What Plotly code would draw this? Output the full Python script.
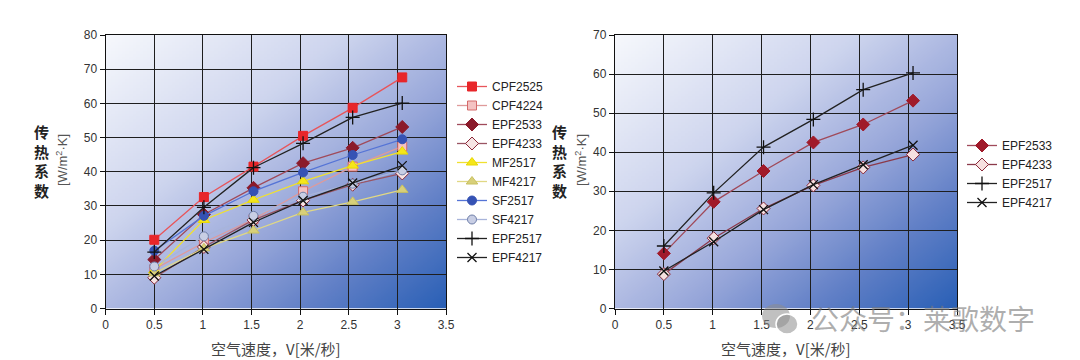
import base64, struct, zlib
import plotly.graph_objects as go

# ---------------- data ----------------
speed = [0.5, 1.01, 1.52, 2.03, 2.54, 3.05]
x_ticks = [0, 0.5, 1, 1.5, 2, 2.5, 3, 3.5]

# left chart
CPF2525 = [20.1, 32.6, 41.5, 50.5, 58.7, 67.6]
CPF4224 = [11.5, 19.3, 26.1, 34.3, 41.5, 47.4]
EPF2533 = [14.3, 27.5, 35.3, 42.5, 47.0, 53.1]
EPF4233 = [9.0, 18.0, 25.9, 31.6, 36.2, 39.5]
MF2517 = [11.1, 25.9, 31.8, 37.2, 41.8, 45.9]
MF4217 = [10.3, 17.6, 22.8, 28.1, 31.2, 34.7]
SF2517 = [16.9, 27.1, 34.3, 39.8, 44.9, 49.5]
SF4217 = [12.3, 21.1, 27.1, 32.7, 36.5, 40.4]
EPF2517 = [16.5, 29.6, 41.2, 48.3, 55.9, 60.1]
EPF4217 = [9.5, 17.3, 25.2, 31.6, 36.7, 41.8]

# right chart
R_EPF2533 = [14.1, 27.3, 35.2, 42.5, 47.1, 53.2]
R_EPF4233 = [8.8, 18.0, 25.6, 31.5, 36.1, 39.4]
R_EPF2517 = [16.0, 29.6, 41.3, 48.4, 56.0, 60.3]
R_EPF4217 = [9.6, 17.1, 25.3, 31.7, 36.8, 41.8]

x_title = "空气速度，V[米/秒]"
y_title_cn = "传<br>热<br>系<br>数"
y_title_unit = "[W/m<sup>2</sup>·K]"
watermark = "公众号：莱歌数字"

W, H, OFF = 1080, 360, 8  # page body margin offset compensation

def px(x):
    return (x - OFF) / W

def py(y):
    return 1 - (y - OFF) / H

# ---------------- gradient background image ----------------
def grad_color(t):
    stops = [(0.0, (246, 248, 252)), (0.35, (206, 213, 238)), (0.6, (152, 167, 218)),
             (0.8, (96, 127, 198)), (1.0, (42, 96, 182))]
    for (t0, c0), (t1, c1) in zip(stops[:-1], stops[1:]):
        if t <= t1:
            f = (t - t0) / (t1 - t0)
            return tuple(int(round(a + (b - a) * f)) for a, b in zip(c0, c1))
    return stops[-1][1]

def make_png(w, h):
    rows = []
    for j in range(h):
        row = bytearray(b"\x00")
        for i in range(w):
            t = 0.5 * (i / (w - 1) + j / (h - 1))
            row.extend(grad_color(t))
        rows.append(bytes(row))
    raw = b"".join(rows)

    def chunk(tag, data):
        return (struct.pack(">I", len(data)) + tag + data +
                struct.pack(">I", zlib.crc32(tag + data) & 0xFFFFFFFF))

    png = (b"\x89PNG\r\n\x1a\n" +
           chunk(b"IHDR", struct.pack(">IIBBBBB", w, h, 8, 2, 0, 0, 0)) +
           chunk(b"IDAT", zlib.compress(raw, 9)) + chunk(b"IEND", b""))
    return "data:image/png;base64," + base64.b64encode(png).decode()

bg = make_png(96, 96)

# ---------------- figure ----------------
fig = go.Figure()

def add(xa, ya, legend, name, y, line_color, symbol, mcolor, mline, size=9, mlw=1, lw=1.3):
    fig.add_trace(go.Scatter(
        x=speed, y=y, name=name, mode="lines+markers",
        xaxis=xa, yaxis=ya, legend=legend,
        line=dict(color=line_color, width=lw),
        marker=dict(symbol=symbol, size=size, color=mcolor,
                    line=dict(color=mline, width=mlw)),
    ))

L = ("x", "y", "legend")
add(*L, "CPF2525", CPF2525, "#e8555a", "square", "#e8262a", "#e8262a", 9)
add(*L, "CPF4224", CPF4224, "#df9a9a", "square", "#f4c2c2", "#d46a6a", 9)
add(*L, "EPF2533", EPF2533, "#a04a5a", "diamond", "#8b1a2a", "#8b1a2a", 10)
add(*L, "EPF4233", EPF4233, "#9a5563", "diamond", "#f6e4e4", "#8b2a3a", 10)
add(*L, "MF2517", MF2517, "#f0e030", "triangle-up", "#f5e61a", "#e8d800", 10)
add(*L, "MF4217", MF4217, "#e0d884", "triangle-up", "#d8d07a", "#c8c060", 10)
add(*L, "SF2517", SF2517, "#5574d6", "circle", "#3552b4", "#3552b4", 9)
add(*L, "SF4217", SF4217, "#a8b4da", "circle", "#c8cee4", "#6e7ea8", 9)
add(*L, "EPF2517", EPF2517, "#222222", "cross-thin", "#111111", "#111111", 10, 1.3)
add(*L, "EPF4217", EPF4217, "#222222", "x-thin", "#111111", "#111111", 9, 1.3)

R = ("x2", "y2", "legend2")
add(*R, "EPF2533", R_EPF2533, "#a04a5a", "diamond", "#a01a2a", "#a01a2a", 10)
add(*R, "EPF4233", R_EPF4233, "#8b3a4a", "diamond", "#f6e0e0", "#8b2a3a", 10)
add(*R, "EPF2517", R_EPF2517, "#222222", "cross-thin", "#111111", "#111111", 10, 1.3)
add(*R, "EPF4217", R_EPF4217, "#222222", "x-thin", "#111111", "#111111", 9, 1.3)

tickfont = dict(family="Liberation Sans, Arial, sans-serif", size=12, color="#333333")
common = dict(showgrid=True, gridcolor="#1e1e1e", gridwidth=1.3, zeroline=False,
              showline=True, linecolor="#111111", linewidth=1.3, mirror=True,
              ticks="outside", ticklen=5, tickcolor="#111111", tickfont=tickfont,
              fixedrange=True, automargin=False)

ydom = [py(308.5), py(35)]
legfont = dict(family="Liberation Sans, Arial, sans-serif", size=12, color="#222222")
fig.update_layout(
    width=W, height=H,
    margin=dict(l=0, r=0, t=0, b=0, autoexpand=False),
    paper_bgcolor="white", plot_bgcolor="white",
    showlegend=True,
    xaxis=dict(domain=[px(105.7), px(446)], range=[0, 3.5], tickvals=x_ticks, **common),
    yaxis=dict(domain=ydom, range=[0, 80], dtick=10, anchor="x", **common),
    xaxis2=dict(domain=[px(615), px(957)], range=[0, 3.5], tickvals=x_ticks, anchor="y2", **common),
    yaxis2=dict(domain=ydom, range=[0, 70], dtick=10, anchor="x2", **common),
    legend=dict(x=px(452), y=py(172), xanchor="left", yanchor="middle",
                bgcolor="rgba(255,255,255,0)", itemwidth=30, tracegroupgap=0, font=legfont),
    legend2=dict(x=px(962), y=py(174), xanchor="left", yanchor="middle",
                 bgcolor="rgba(255,255,255,0)", itemwidth=30, tracegroupgap=0, font=legfont),
    images=[
        dict(source=bg, xref="x", yref="y", x=0, y=80, sizex=3.5, sizey=80,
             sizing="stretch", layer="below", xanchor="left", yanchor="top"),
        dict(source=bg, xref="x2", yref="y2", x=0, y=70, sizex=3.5, sizey=70,
             sizing="stretch", layer="below", xanchor="left", yanchor="top"),
    ],
)

cjk = "Noto Sans CJK SC, sans-serif"
ann = []
for cx, ux in ((41, 62), (559, 581)):
    ann.append(dict(text="<b>" + y_title_cn + "</b>", x=px(cx), y=py(161),
                    xref="paper", yref="paper", showarrow=False, xanchor="center", yanchor="middle",
                    font=dict(family=cjk, size=15, color="#222222")))
    ann.append(dict(text=y_title_unit, x=px(ux), y=py(160), textangle=-90,
                    xref="paper", yref="paper", showarrow=False, xanchor="center", yanchor="middle",
                    font=dict(family="Liberation Sans, Arial, sans-serif", size=13, color="#555555")))
for xref in ("x", "x2"):
    ann.append(dict(text=x_title, x=0.5, y=py(348), xref=xref + " domain", yref="paper",
                    showarrow=False, xanchor="center", yanchor="middle",
                    font=dict(family=cjk, size=15, color="#444444")))
ann.append(dict(text=watermark, x=px(923), y=py(318), xref="paper", yref="paper",
                showarrow=False, xanchor="center", yanchor="middle",
                font=dict(family=cjk, size=28, color="rgba(120,120,120,0.6)")))
fig.update_layout(annotations=ann)

# small WeChat-like icon next to the watermark (decoration)
fig.add_shape(type="circle", xref="paper", yref="paper", layer="above",
              x0=px(762), x1=px(790), y0=py(328), y1=py(304),
              fillcolor="rgba(140,140,140,0.55)", line=dict(width=0))
fig.add_shape(type="circle", xref="paper", yref="paper", layer="above",
              x0=px(776), x1=px(798), y0=py(334), y1=py(314),
              fillcolor="rgba(140,140,140,0.55)", line=dict(color="white", width=1.5))

fig.write_html("out.html")
